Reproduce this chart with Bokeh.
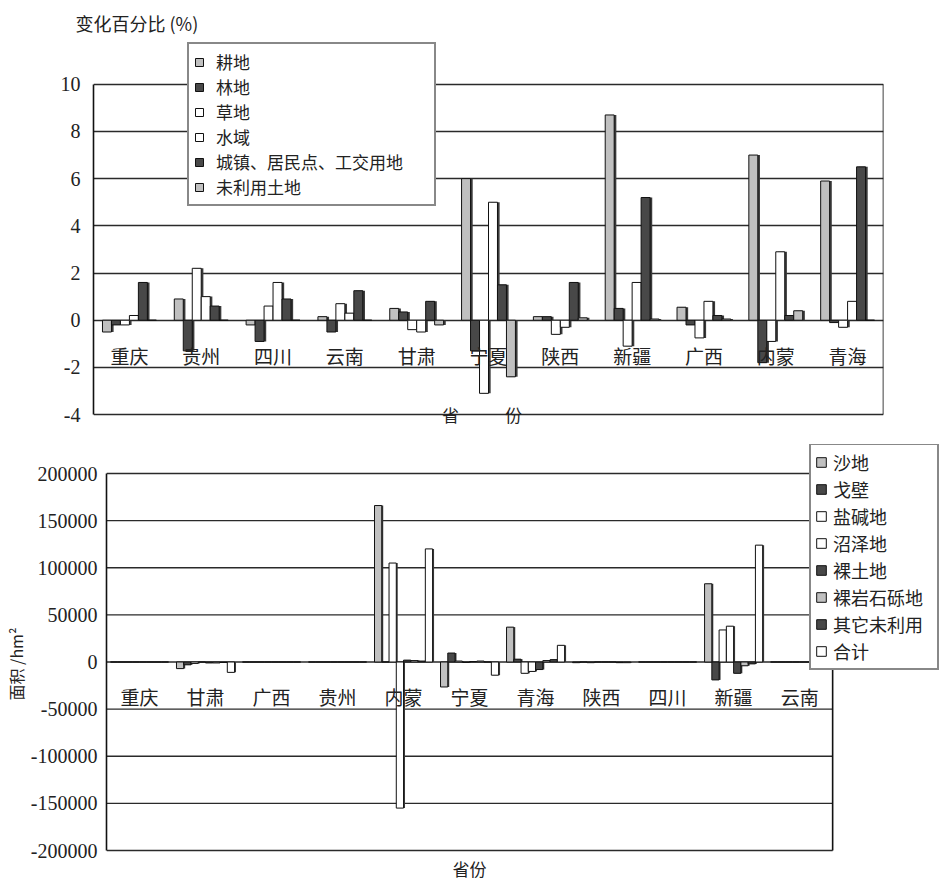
from bokeh.plotting import figure
from bokeh.models import ColumnDataSource, Range1d, Label, Legend, FixedTicker
from bokeh.core.properties import value
from bokeh.embed import file_html
from bokeh.resources import INLINE

# ---------------- data: top chart (变化百分比 %) ----------------
provinces_top = ["重庆", "贵州", "四川", "云南", "甘肃", "宁夏", "陕西", "新疆", "广西", "内蒙", "青海"]
series_top = ["耕地", "林地", "草地", "水域", "城镇、居民点、工交用地", "未利用土地"]
gengdi    = [-0.5, 0.9, -0.2, 0.15, 0.5, 6.0, 0.15, 8.7, 0.55, 7.0, 5.9]
lindi     = [-0.2, -1.3, -0.9, -0.5, 0.35, -1.3, 0.15, 0.5, -0.2, -1.8, -0.1]
caodi     = [-0.2, 2.2, 0.6, 0.7, -0.4, -3.1, -0.6, -1.1, -0.75, -0.9, -0.3]
shuiyu    = [0.2, 1.0, 1.6, 0.3, -0.5, 5.0, -0.3, 1.6, 0.8, 2.9, 0.8]
chengzhen = [1.6, 0.6, 0.9, 1.25, 0.8, 1.5, 1.6, 5.2, 0.2, 0.2, 6.5]
weiliyong = [0.0, 0.0, 0.0, 0.0, -0.2, -2.4, 0.1, 0.05, 0.05, 0.4, 0.0]
top_ticks = [-4, -2, 0, 2, 4, 6, 8, 10]

# ---------------- data: bottom chart (面积 /hm2) ----------------
provinces_bottom = ["重庆", "甘肃", "广西", "贵州", "内蒙", "宁夏", "青海", "陕西", "四川", "新疆", "云南"]
series_bottom = ["沙地", "戈壁", "盐碱地", "沼泽地", "裸土地", "裸岩石砾地", "其它未利用", "合计"]
shadi   = [0, -7000, 0, 0, 166000, -26500, 37000, -700, 0, 83000, 0]
gebi    = [0, -3000, 0, 0, 0, 9500, 3000, 0, 0, -19000, 0]
yanjian = [0, -1500, 0, 0, 105000, 1000, -12000, -700, 0, 34000, 0]
zhaoze  = [0, 0, 0, 0, -155000, -500, -10000, 0, 0, 38000, 0]
lutu    = [0, -1000, 0, 0, 2000, 500, -8000, 0, 0, -12000, 0]
luyan   = [0, -1000, 0, 0, 1500, 1000, 1500, 0, 0, -4000, 0]
qita    = [0, -500, 0, 0, 1000, 0, 2500, -700, 0, -2000, 0]
heji    = [0, -11000, 0, 0, 120000, -14000, 17700, -700, 0, 124000, 0]
bottom_ticks = [-200000, -150000, -100000, -50000, 0, 50000, 100000, 150000, 200000]

CJK = "Noto Sans CJK SC"
NUM = "Liberation Serif"
TXT = "#222222"
LIGHT = "#c0c0c0"
DARK = "#484848"
WHITE = "#ffffff"
EDGE = "#111111"
GRID = "#2a2a2a"


def style(p, ticks, standoff):
    p.xaxis.visible = False
    p.xgrid.visible = False
    p.ygrid.grid_line_color = GRID
    p.ygrid.grid_line_width = 1.4
    p.ygrid.ticker = FixedTicker(ticks=ticks)
    ax = p.yaxis[0]
    ax.ticker = FixedTicker(ticks=ticks)
    ax.bounds = (ticks[0], ticks[-1])
    ax.major_label_overrides = {t: str(t) for t in ticks}
    ax.major_tick_line_color = None
    ax.minor_tick_line_color = None
    ax.major_tick_out = 0
    ax.major_tick_in = 0
    ax.axis_line_color = EDGE
    ax.axis_line_width = 1.6
    ax.major_label_standoff = standoff
    ax.major_label_text_font = NUM
    ax.major_label_text_font_size = "20px"
    ax.major_label_text_color = TXT
    p.outline_line_color = None
    p.background_fill_color = "white"
    p.border_fill_color = "white"


def centers(cats):
    return [i + 0.5 for i in range(len(cats))]


# ---------------- top figure ----------------
# frame: page x 93..883, y 40..428 ; value 10 -> y82, -4 -> y414
px_unit1 = 332.0 / 14.0
n1 = len(provinces_top)
xc1 = centers(provinces_top)
src_top = ColumnDataSource(dict(cat=provinces_top, xc=xc1, ly=[-1.5] * n1))
p1 = figure(width=952, height=435, x_range=Range1d(0, n1),
            y_range=Range1d(top_ticks[0] - 14 / px_unit1, top_ticks[-1] + 42 / px_unit1),
            output_backend="svg", toolbar_location=None,
            min_border_left=93, min_border_right=69, min_border_top=40, min_border_bottom=7)
style(p1, top_ticks, 13)

p1.title.text = "变化百分比 (%)"
p1.title.align = "left"
p1.title.offset = -18
p1.title.text_font = CJK
p1.title.text_font_size = "18px"
p1.title.text_font_style = "normal"
p1.title.text_color = TXT
p1.title.standoff = 14

# right border of the plot box
p1.segment(x0=[n1], y0=[top_ticks[0]], x1=[n1], y1=[top_ticks[-1]],
           line_color=EDGE, line_width=1.6)

vals_top = [gengdi, lindi, caodi, shuiyu, chengzhen, weiliyong]
colors_top = [LIGHT, DARK, WHITE, WHITE, DARK, LIGHT]
w1 = 0.125
offs1 = [(i - 2.5) * w1 for i in range(6)]
for i in range(6):
    p1.vbar(x=[c + offs1[i] + 0.03 for c in xc1], top=vals_top[i], width=w1,
            fill_color="#3a3a3a", line_color=None)
items1 = []
for i in range(6):
    r = p1.vbar(x=[c + offs1[i] for c in xc1], top=vals_top[i], width=w1,
                fill_color=colors_top[i], line_color=EDGE, line_width=1)
    items1.append((series_top[i], [r]))

p1.text(x="xc", y="ly", text="cat", source=src_top, text_font=value(CJK),
        text_font_size="19px", text_align="center", text_baseline="middle", text_color=TXT)

leg1 = Legend(items=items1, location=(94, 222), orientation="vertical")
leg1.label_text_font = CJK
leg1.label_text_font_size = "17px"
leg1.label_text_color = TXT
leg1.glyph_width = 10
leg1.glyph_height = 10
leg1.label_height = 20
leg1.label_width = 213
leg1.label_standoff = 12
leg1.spacing = 0
leg1.padding = 5
leg1.border_line_color = EDGE
leg1.border_line_width = 2.5
leg1.background_fill_alpha = 1
p1.add_layout(leg1, "center")

p1.add_layout(Label(x=357, y=14, x_units="screen", y_units="screen", text="省",
                    text_font=CJK, text_font_size="17px", text_color=TXT,
                    text_baseline="middle", text_align="center"))
p1.add_layout(Label(x=420, y=14, x_units="screen", y_units="screen", text="份",
                    text_font=CJK, text_font_size="17px", text_color=TXT,
                    text_baseline="middle", text_align="center"))

# ---------------- bottom figure ----------------
# frame: page x 105..952, y 444..883 ; 200000 -> y473, -200000 -> y850
n2 = len(provinces_bottom)
xc2 = centers(provinces_bottom)
px_x2 = 727.0 / n2
px_unit2 = 377.0 / 400000.0
src_bot = ColumnDataSource(dict(cat=provinces_bottom, xc=xc2, ly=[-37000] * n2))
p2 = figure(width=952, height=448, x_range=Range1d(0, n2 + 120 / px_x2),
            y_range=Range1d(bottom_ticks[0] - 33 / px_unit2, bottom_ticks[-1] + 29 / px_unit2),
            output_backend="svg", toolbar_location=None,
            min_border_left=105, min_border_right=0, min_border_top=9, min_border_bottom=0)
style(p2, bottom_ticks, 9)
p2.ygrid.visible = False
p2.yaxis[0].axis_label = "面积 /hm²"
p2.yaxis[0].axis_label_text_font = CJK
p2.yaxis[0].axis_label_text_font_size = "16px"
p2.yaxis[0].axis_label_text_font_style = "normal"
p2.yaxis[0].axis_label_text_color = TXT
p2.yaxis[0].axis_label_standoff = 0

# horizontal grid lines limited to the plot box (box ends at the last category)
p2.segment(x0=[0] * len(bottom_ticks), y0=bottom_ticks, x1=[n2] * len(bottom_ticks),
           y1=bottom_ticks, line_color=GRID, line_width=1.4)
# right border of the plot box
p2.segment(x0=[n2], y0=[bottom_ticks[0]], x1=[n2], y1=[bottom_ticks[-1]],
           line_color=EDGE, line_width=1.6)

vals_bot = [shadi, gebi, yanjian, zhaoze, lutu, luyan, qita, heji]
colors_bot = [LIGHT, DARK, WHITE, WHITE, DARK, LIGHT, DARK, WHITE]
w2 = 0.11
offs2 = [(i - 3.5) * w2 for i in range(8)]
for i in range(8):
    p2.vbar(x=[c + offs2[i] + 0.022 for c in xc2], top=vals_bot[i], width=w2,
            fill_color="#3a3a3a", line_color=None)
items2 = []
for i in range(8):
    r = p2.vbar(x=[c + offs2[i] for c in xc2], top=vals_bot[i], width=w2,
                fill_color=colors_bot[i], line_color=EDGE, line_width=1)
    items2.append((series_bottom[i], [r]))

p2.text(x="xc", y="ly", text="cat", source=src_bot, text_font=value(CJK),
        text_font_size="19px", text_align="center", text_baseline="middle", text_color=TXT)

leg2 = Legend(items=items2, location=(703, 213), orientation="vertical")
leg2.label_text_font = CJK
leg2.label_text_font_size = "18px"
leg2.label_text_color = TXT
leg2.glyph_width = 12
leg2.glyph_height = 12
leg2.label_height = 22
leg2.label_width = 100
leg2.label_standoff = 6
leg2.spacing = 1
leg2.padding = 4
leg2.border_line_color = EDGE
leg2.border_line_width = 2
leg2.background_fill_alpha = 1
p2.add_layout(leg2, "center")

p2.add_layout(Label(x=363, y=15, x_units="screen", y_units="screen", text="省份",
                    text_font=CJK, text_font_size="17px", text_color=TXT,
                    text_baseline="middle", text_align="center"))

open("out.html", "w").write(file_html([p1, p2], INLINE))
